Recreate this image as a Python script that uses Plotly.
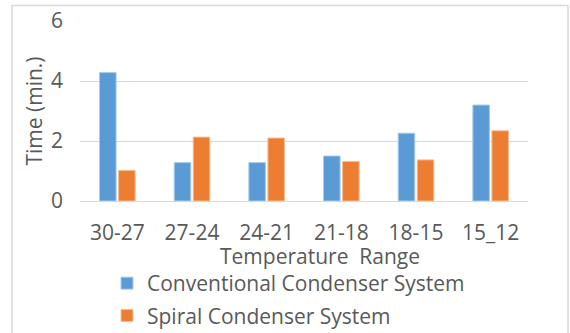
import plotly.graph_objects as go

categories = ["30-27", "27-24", "24-21", "21-18", "18-15", "15_12"]
conventional = [4.28, 1.28, 1.28, 1.50, 2.26, 3.20]
spiral = [1.02, 2.13, 2.10, 1.32, 1.37, 2.34]
y_ticks = [0, 2, 4, 6]

FONT = "Open Sans"
TXT = "#595959"
FS = 21

fig = go.Figure()
fig.add_trace(go.Bar(x=categories, y=conventional, name="Conventional Condenser System",
                     marker=dict(color="#5B9BD5", line=dict(color="#A9CBEA", width=1)),
                     legendgroup="a"))
fig.add_trace(go.Bar(x=categories, y=spiral, name="Spiral Condenser System",
                     marker=dict(color="#ED7D31", line=dict(color="#F6BE98", width=1)),
                     legendgroup="b"))

L, R, T, B = 80, 42, 21, 132
W, H = 570, 333
pw, ph = W - L - R, H - T - B

def px(x):
    return (x - L) / pw

def py(y):
    return (H - B - y) / ph

fig.update_layout(
    width=W, height=H,
    margin=dict(l=L, r=R, t=T, b=B, autoexpand=False),
    paper_bgcolor="white", plot_bgcolor="white",
    font=dict(family=FONT, size=FS, color=TXT),
    barmode="group", bargap=0.49, bargroupgap=0.13,
    showlegend=True,
    legend=dict(x=px(107), y=py(263), xanchor="left", yanchor="top",
                orientation="v", font=dict(size=FS, color=TXT),
                bgcolor="rgba(0,0,0,0)", tracegroupgap=2, traceorder="grouped"),
    xaxis=dict(showgrid=False, showline=True, linecolor="#D9D9D9", linewidth=1,
               ticks="", ticklabelstandoff=13, tickfont=dict(size=FS, color=TXT),
               title=dict(text="")),
    yaxis=dict(range=[0, 6], tickvals=y_ticks, showgrid=True, gridcolor="#D9D9D9",
               gridwidth=1, zeroline=False, showline=False, ticks="",
               ticklabelstandoff=16, tickfont=dict(size=FS, color=TXT),
               title=dict(text="Time (min.)", font=dict(size=FS, color=TXT), standoff=2)),
    shapes=[dict(type="rect", xref="paper", yref="paper",
                 x0=px(12), x1=px(568), y0=py(345), y1=py(5.5),
                 line=dict(color="#D9D9D9", width=1.5), fillcolor="rgba(0,0,0,0)", layer="below")],
    annotations=[dict(text="Temperature  Range", xref="paper", yref="paper",
                      x=px(320), y=py(256), xanchor="center", yanchor="middle",
                      showarrow=False, font=dict(size=FS, color=TXT))],
)

fig.write_html("out.html")
